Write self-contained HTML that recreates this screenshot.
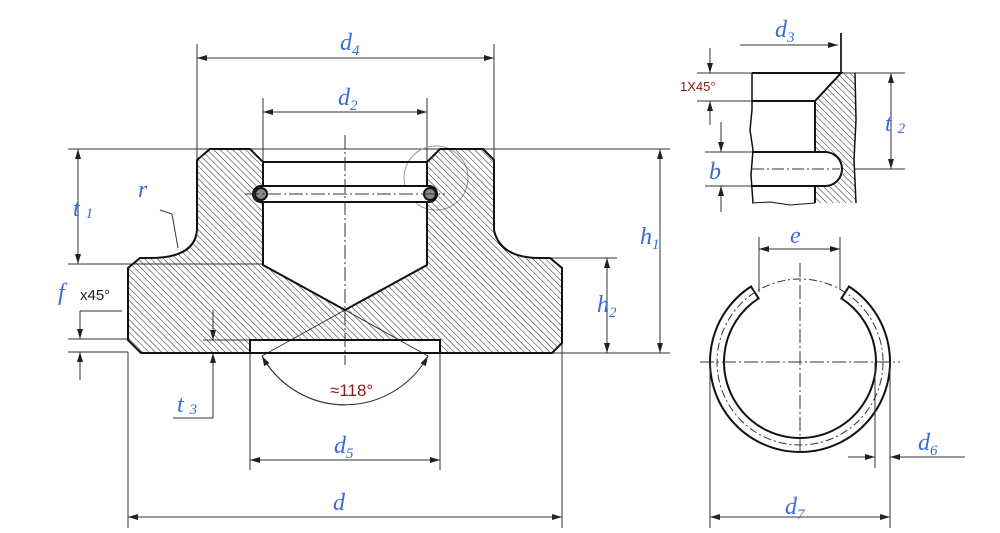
<!DOCTYPE html>
<html><head><meta charset="utf-8"><style>
html,body{margin:0;padding:0;background:#fff;}
svg{display:block;}
.l{font-family:"Liberation Serif",serif;font-style:italic;fill:#3a6ad6;font-size:24px;}
.s{font-size:15px;}
.r{font-family:"Liberation Sans",sans-serif;fill:#8b1a1a;font-size:15px;}
</style></head><body>
<svg width="1000" height="533" viewBox="0 0 1000 533" xmlns="http://www.w3.org/2000/svg">
<defs>
<pattern id="h" patternUnits="userSpaceOnUse" width="4.5" height="10" patternTransform="rotate(-45)">
<line x1="0" y1="0" x2="0" y2="10" stroke="#222" stroke-width="1"/></pattern>
<marker id="a" markerWidth="10" markerHeight="6" refX="10" refY="3" orient="auto" markerUnits="userSpaceOnUse"><path d="M0,0 L10,3 L0,6 Z" fill="#222"/></marker>
</defs>
<g fill="none" stroke="#333" stroke-width="1">
<line x1="197" y1="44" x2="197" y2="160"/><line x1="494" y1="44" x2="494" y2="160"/>
<line x1="263" y1="98" x2="263" y2="165"/><line x1="427" y1="98" x2="427" y2="165"/>
<line x1="68" y1="149" x2="670" y2="149"/>
<line x1="68" y1="264" x2="263" y2="264"/>
<line x1="550" y1="258" x2="617" y2="258"/>
<line x1="552" y1="353" x2="670" y2="353"/>
<line x1="68" y1="339" x2="128" y2="339"/><line x1="68" y1="352" x2="128" y2="352"/>
<line x1="128" y1="352" x2="128" y2="528"/><line x1="562" y1="343" x2="562" y2="528"/>
<line x1="250" y1="345" x2="250" y2="470"/><line x1="440" y1="345" x2="440" y2="470"/>
<line x1="203" y1="340" x2="250" y2="340"/>
<line x1="197" y1="58" x2="494" y2="58" marker-end="url(#a)"/>
<path d="M300,58 L197,58" marker-end="url(#a)"/>
<line x1="263" y1="112" x2="427" y2="112" marker-end="url(#a)"/><path d="M300,112 L263,112" marker-end="url(#a)"/>
<line x1="78" y1="149" x2="78" y2="264" marker-end="url(#a)"/><path d="M78,200 L78,149" marker-end="url(#a)"/>
<line x1="660" y1="149" x2="660" y2="353" marker-end="url(#a)"/><path d="M660,250 L660,149" marker-end="url(#a)"/>
<line x1="607" y1="258" x2="607" y2="353" marker-end="url(#a)"/><path d="M607,300 L607,258" marker-end="url(#a)"/>
<path d="M80,311 L122,311 M80,311 L80,339" marker-end="url(#a)"/>
<path d="M80,380 L80,352" marker-end="url(#a)"/>
<path d="M173,418 L213,418 L213,353" marker-end="url(#a)"/>
<path d="M213,310 L213,340" marker-end="url(#a)"/>
<line x1="250" y1="460" x2="440" y2="460" marker-end="url(#a)"/><path d="M340,460 L250,460" marker-end="url(#a)"/>
<line x1="128" y1="517" x2="562" y2="517" marker-end="url(#a)"/><path d="M340,517 L128,517" marker-end="url(#a)"/>
<path d="M262,356 A95,95 0 0 0 428,356" marker-end="url(#a)"/>
<path d="M345,405 A95,95 0 0 1 262,356" marker-end="url(#a)"/>
<line x1="345" y1="310" x2="262" y2="356"/><line x1="345" y1="310" x2="428" y2="356"/>
<path d="M160,210 L172,214 L178,248"/>
<circle cx="436" cy="178" r="32" stroke="#999"/>
</g>
<path d="M210,149 L250,149 L263,162 L263,265 L345,310 L427,265 L427,162 L440,149 L483,149 L494,160 L494,230 Q500,258 540,258 L550,258 L562,268 L562,343 L552,353 L440,353 L440,340 L250,340 L250,353 L141,353 L128,340 L128,268 L140,258 L150,258 Q195,258 197,230 L197,160 Z" fill="url(#h)" stroke="#111" stroke-width="2"/>
<g stroke="#111" stroke-width="2" fill="none">
<line x1="263" y1="162" x2="427" y2="162"/>
<line x1="250" y1="353" x2="440" y2="353"/>
<rect x="253" y="186" width="184" height="16" rx="8" fill="#fff"/>
<circle cx="261" cy="194" r="6" fill="#888"/><circle cx="430" cy="194" r="6" fill="#888"/>
</g>
<g stroke="#333" stroke-width="1" stroke-dasharray="14,3,2,3" fill="none">
<line x1="345" y1="135" x2="345" y2="365"/>
<line x1="245" y1="194" x2="445" y2="194"/>
</g>
<g fill="none" stroke="#333" stroke-width="1">
<line x1="697" y1="73" x2="905" y2="73"/>
<line x1="697" y1="101" x2="752" y2="101"/>
<line x1="705" y1="152" x2="752" y2="152"/><line x1="705" y1="186" x2="752" y2="186"/>
<line x1="855" y1="169" x2="905" y2="169"/>
<path d="M710,48 L710,73" marker-end="url(#a)"/><path d="M710,125 L710,101" marker-end="url(#a)"/>
<path d="M721,122 L721,152" marker-end="url(#a)"/><path d="M721,212 L721,186" marker-end="url(#a)"/>
<path d="M891,121 L891,73" marker-end="url(#a)"/><path d="M891,121 L891,169" marker-end="url(#a)"/>
<path d="M740,45 L838,45" marker-end="url(#a)"/>
<line x1="841" y1="33" x2="841" y2="73" stroke-width="2"/>
</g>
<path d="M815,101 L841,73 L855,73 L855,203 L815,203 Z" fill="url(#h)" stroke="none"/>
<g fill="none" stroke="#111" stroke-width="2">
<path d="M752,73 L841,73 L815,101 L815,152"/>
<line x1="752" y1="101" x2="815" y2="101"/>
<line x1="815" y1="186" x2="815" y2="203"/>
<path d="M752,73 L752,110 L750,130 L753,150 L751,175 L753,203" stroke-width="1.5"/>
<path d="M752,203 L770,202 L790,205 L815,203" stroke-width="1"/>
<path d="M855,73 L856,120 L854,160 L856,203" stroke-width="1.5"/>
</g>
<path d="M825,152 A17,17 0 0 1 825,186 L815,186 L815,152 Z" fill="#fff"/>
<path d="M752,152 L825,152 A17,17 0 0 1 825,186 L752,186" fill="none" stroke="#111" stroke-width="2"/>
<line x1="752" y1="169" x2="840" y2="169" stroke="#333" stroke-dasharray="12,3,2,3"/>
<path d="M849,286.5 A90,90 0 1 1 751,286.5 L758.6,298.3 A76,76 0 1 0 841.4,298.3 Z" fill="#fff" stroke="#111" stroke-width="2"/>
<circle cx="800" cy="362" r="83" fill="none" stroke="#333" stroke-dasharray="8,3,2,3"/>
<g fill="none" stroke="#333" stroke-width="1">
<line x1="800" y1="263" x2="800" y2="455" stroke-dasharray="14,3,2,3"/>
<line x1="700" y1="362" x2="900" y2="362" stroke-dasharray="14,3,2,3"/>
<line x1="759" y1="237" x2="759" y2="292"/><line x1="840" y1="237" x2="840" y2="290"/>
<line x1="759" y1="249" x2="840" y2="249" marker-end="url(#a)"/><path d="M800,249 L759,249" marker-end="url(#a)"/>
<line x1="710" y1="362" x2="710" y2="528"/><line x1="890" y1="362" x2="890" y2="528"/>
<line x1="875" y1="362" x2="875" y2="468"/>
<line x1="710" y1="517" x2="890" y2="517" marker-end="url(#a)"/><path d="M800,517 L710,517" marker-end="url(#a)"/>
<path d="M848,457 L875,457" marker-end="url(#a)"/><path d="M965,457 L890,457" marker-end="url(#a)"/>
</g>
<text class="l" x="340" y="50">d<tspan class="s" dy="5">4</tspan></text>
<text class="l" x="338" y="105">d<tspan class="s" dy="5">2</tspan></text>
<text class="l" x="73" y="216">t <tspan class="s" dy="2">1</tspan></text>
<text class="l" x="138" y="197">r</text>
<text class="l" x="640" y="244">h<tspan class="s" dy="5">1</tspan></text>
<text class="l" x="597" y="312">h<tspan class="s" dy="5">2</tspan></text>
<text class="l" x="58" y="300">f</text><text class="r" x="80" y="300" style="fill:#222">x45°</text>
<text class="l" x="177" y="412">t <tspan class="s" dy="2">3</tspan></text>
<text class="l" x="334" y="453">d<tspan class="s" dy="5">5</tspan></text>
<text class="l" x="333" y="510">d</text>
<text class="r" x="330" y="396" style="font-size:17px">≈118°</text>
<text class="l" x="775" y="37">d<tspan class="s" dy="5">3</tspan></text>
<text class="r" x="680" y="91" style="font-size:13px">1X45°</text>
<text class="l" x="885" y="131">t <tspan class="s" dy="2">2</tspan></text>
<text class="l" x="709" y="179">b</text>
<text class="l" x="790" y="243">e</text>
<text class="l" x="918" y="450">d<tspan class="s" dy="5">6</tspan></text>
<text class="l" x="785" y="514">d<tspan class="s" dy="5">7</tspan></text>
</svg>
</body></html>
